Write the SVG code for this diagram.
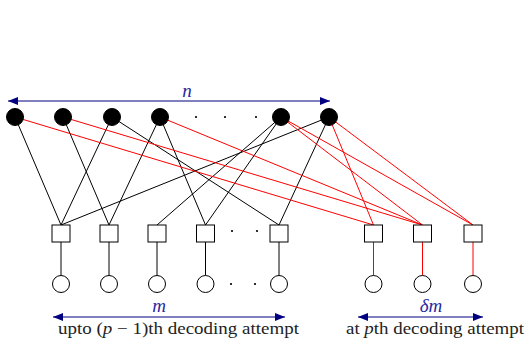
<svg xmlns="http://www.w3.org/2000/svg" width="528" height="351" viewBox="0 0 528 351">
<style>
.var{fill:#000;stroke:#000;stroke-width:1}
.chk{fill:#fff;stroke:#000;stroke-width:1}
.obs{fill:#fff;stroke:#000;stroke-width:1}
.eb{stroke:#000;stroke-width:1;fill:none}
.er{stroke:#ff0000;stroke-width:1;fill:none}
.dot{fill:#000}
.dim{stroke:#000080;stroke-width:1.2;fill:none}
.lab{font-family:"Liberation Serif",serif;font-style:italic;font-size:19px;fill:#2a2aa0}
.cap{font-family:"Liberation Serif",serif;font-size:17.5px;fill:#222}
.it{font-style:italic}
</style>
<defs>
<marker id="ah" viewBox="0 0 10 8" refX="10" refY="4" markerWidth="10" markerHeight="8" markerUnits="userSpaceOnUse" orient="auto-start-reverse">
<path d="M0,0 L10,4 L0,8 Z" fill="#000080"/>
</marker>
</defs>
<g id="edges">
<line class="eb" x1="15" y1="117" x2="61" y2="225"/>
<line class="eb" x1="112" y1="117" x2="61" y2="225"/>
<line class="eb" x1="329" y1="117" x2="61" y2="225"/>
<line class="eb" x1="63" y1="117" x2="109" y2="225"/>
<line class="eb" x1="160" y1="117" x2="109" y2="225"/>
<line class="eb" x1="281" y1="117" x2="157" y2="225"/>
<line class="eb" x1="160" y1="117" x2="205.5" y2="225"/>
<line class="eb" x1="281" y1="117" x2="205.5" y2="225"/>
<line class="eb" x1="112" y1="117" x2="279" y2="225"/>
<line class="eb" x1="329" y1="117" x2="279" y2="225"/>
<line class="er" x1="15" y1="117" x2="373.5" y2="225"/>
<line class="er" x1="329" y1="117" x2="373.5" y2="225"/>
<line class="er" x1="63" y1="117" x2="422.5" y2="225"/>
<line class="er" x1="160" y1="117" x2="422.5" y2="225"/>
<line class="er" x1="281" y1="117" x2="422.5" y2="225"/>
<line class="er" x1="281" y1="117" x2="473" y2="225"/>
<line class="er" x1="329" y1="117" x2="473" y2="225"/>
<path class="eb" d="M61,242V275.5M109,242V275.5M157,242V275.5M205.5,242V275.5M279,242V275.5"/>
<path class="er" d="M373.5,242V275.5M422.5,242V275.5M473,242V275.5"/>
</g>
<g id="v1"><circle class="var" cx="15" cy="117" r="8.5"/></g>
<g id="v2"><circle class="var" cx="63" cy="117" r="8.5"/></g>
<g id="v3"><circle class="var" cx="112" cy="117" r="8.5"/></g>
<g id="v4"><circle class="var" cx="160" cy="117" r="8.5"/></g>
<g id="v5"><circle class="var" cx="281" cy="117" r="8.5"/></g>
<g id="v6"><circle class="var" cx="329" cy="117" r="8.5"/></g>
<g id="topdots"><circle class="dot" cx="196" cy="117" r="1.1"/><circle class="dot" cx="225" cy="117" r="1.1"/><circle class="dot" cx="256" cy="117" r="1.1"/></g>
<g id="c1"><rect class="chk" x="52" y="225" width="18" height="17"/></g>
<g id="c2"><rect class="chk" x="100" y="225" width="18" height="17"/></g>
<g id="c3"><rect class="chk" x="148" y="225" width="18" height="17"/></g>
<g id="c4"><rect class="chk" x="196.5" y="225" width="18" height="17"/></g>
<g id="c5"><rect class="chk" x="270" y="225" width="18" height="17"/></g>
<g id="c6"><rect class="chk" x="364.5" y="225" width="18" height="17"/></g>
<g id="c7"><rect class="chk" x="413.5" y="225" width="18" height="17"/></g>
<g id="c8"><rect class="chk" x="464" y="225" width="18" height="17"/></g>
<g id="middots"><circle class="dot" cx="232" cy="231" r="1.1"/><circle class="dot" cx="257" cy="231" r="1.1"/></g>
<g id="o1"><circle class="obs" cx="61" cy="284" r="8.5"/></g>
<g id="o2"><circle class="obs" cx="109" cy="284" r="8.5"/></g>
<g id="o3"><circle class="obs" cx="157" cy="284" r="8.5"/></g>
<g id="o4"><circle class="obs" cx="205.5" cy="284" r="8.5"/></g>
<g id="o5"><circle class="obs" cx="279" cy="284" r="8.5"/></g>
<g id="o6"><circle class="obs" cx="373.5" cy="284" r="8.5"/></g>
<g id="o7"><circle class="obs" cx="422.5" cy="284" r="8.5"/></g>
<g id="o8"><circle class="obs" cx="473" cy="284" r="8.5"/></g>
<g id="botdots"><circle class="dot" cx="231" cy="284" r="1.1"/><circle class="dot" cx="255" cy="284" r="1.1"/></g>
<g id="dims">
<line class="dim" x1="8" y1="101" x2="330" y2="101" marker-start="url(#ah)" marker-end="url(#ah)"/>
<text class="lab" x="187" y="97" text-anchor="middle">n</text>
<line class="dim" x1="53" y1="317" x2="285" y2="317" marker-start="url(#ah)" marker-end="url(#ah)"/>
<text class="lab" x="159" y="312" text-anchor="middle">m</text>
<line class="dim" x1="358" y1="317" x2="483" y2="317" marker-start="url(#ah)" marker-end="url(#ah)"/>
<text class="lab" x="431" y="312" text-anchor="middle">δm</text>
<text class="cap" x="58" y="334" textLength="241" lengthAdjust="spacingAndGlyphs">upto (<tspan class="it">p</tspan> − 1)th decoding attempt</text>
<text class="cap" x="346" y="334" textLength="178" lengthAdjust="spacingAndGlyphs">at <tspan class="it">p</tspan>th decoding attempt</text>
</g>
</svg>
